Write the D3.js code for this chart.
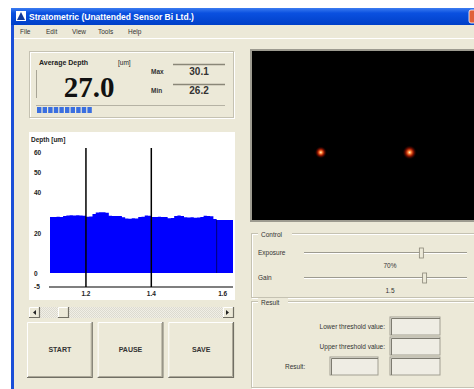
<!DOCTYPE html>
<html>
<head>
<meta charset="utf-8">
<script src="https://cdn.jsdelivr.net/npm/d3@7"></script>
<style>
  html, body { margin: 0; padding: 0; background: #fff; overflow: hidden; }
  svg { display: block; font-family: "Liberation Sans", Arial, sans-serif; }
</style>
</head>
<body>
<div id="container"></div>
<script>
// DATA //
var depthX = [1.09, 1.10, 1.11, 1.12, 1.13, 1.14, 1.15, 1.16, 1.17, 1.18, 1.19,
  1.20, 1.21, 1.22, 1.23, 1.24, 1.25, 1.26, 1.27, 1.28, 1.29, 1.30, 1.31, 1.32,
  1.33, 1.34, 1.35, 1.36, 1.37, 1.38, 1.39, 1.40, 1.41, 1.42, 1.43, 1.44, 1.45,
  1.46, 1.47, 1.48, 1.49, 1.50, 1.51, 1.52, 1.53, 1.54, 1.55, 1.56, 1.57, 1.58,
  1.59, 1.60, 1.61, 1.62, 1.63, 1.64, 1.65];
var depthY = [27.8, 27.8, 27.9, 27.8, 28.3, 28.5, 28.6, 28.5, 28.6, 28.5, 28.4,
  27.9, 28.0, 29.2, 30.0, 30.1, 30.1, 29.9, 28.4, 28.3, 28.2, 28.3, 27.6, 27.0,
  26.9, 27.1, 27.0, 27.7, 27.9, 28.5, 28.4, 27.8, 27.8, 27.9, 27.8, 27.8, 27.1,
  27.2, 28.2, 28.5, 28.3, 27.6, 27.5, 27.6, 27.4, 27.5, 27.8, 28.4, 28.3, 28.1,
  26.8, 26.2, 26.2, 26.2, 26.2, 26.2, 26.2];
var yTicks = [60, 50, 40, 20, 0, -5];
var xTicks = [1.2, 1.4, 1.6];
var cursorX = [1.2, 1.4];
var markerX = [1.6];
var avgDepth = 27.0, maxDepth = 30.1, minDepth = 26.2;
var spots = [{ x: 0.31, y: 0.6 }, { x: 0.71, y: 0.6 }];  // relative to camera panel
var buttonLabels = ["START", "PAUSE", "SAVE"];
var menuItems = ["File", "Edit", "View", "Tools", "Help"];
var sliders = [
  { label: "Exposure", value: 0.72, text: "70%" },
  { label: "Gain", value: 0.74, text: "1.5" }
];
var resultRows = ["Lower threshold value:", "Upper threshold value:"];

var W = 474, H = 389;
var beige = "#ece9d8";

var svg = d3.select("#container").append("svg")
  .attr("width", W).attr("height", H);

var defs = svg.append("defs");
var tg = defs.append("linearGradient").attr("id", "titleGrad")
  .attr("x1", 0).attr("y1", 0).attr("x2", 0).attr("y2", 1);
tg.append("stop").attr("offset", "0%").attr("stop-color", "#3b7cf0");
tg.append("stop").attr("offset", "30%").attr("stop-color", "#0a50e0");
tg.append("stop").attr("offset", "100%").attr("stop-color", "#0040c8");

var glow = defs.append("radialGradient").attr("id", "glow");
glow.append("stop").attr("offset", "0%").attr("stop-color", "#fff4c0");
glow.append("stop").attr("offset", "25%").attr("stop-color", "#ff7a30");
glow.append("stop").attr("offset", "55%").attr("stop-color", "#b01800").attr("stop-opacity", 0.8);
glow.append("stop").attr("offset", "100%").attr("stop-color", "#300000").attr("stop-opacity", 0);

// WINDOW FRAME //
svg.append("rect").attr("x", 11).attr("y", 8).attr("width", W - 11).attr("height", H - 8)
  .attr("fill", beige);
svg.append("rect").attr("x", 11).attr("y", 25).attr("width", 3).attr("height", H - 25)
  .attr("fill", "#1a4fd8");
svg.append("rect").attr("x", 11).attr("y", 8).attr("width", W - 11).attr("height", 17)
  .attr("fill", "url(#titleGrad)");
svg.append("rect").attr("x", 16).attr("y", 11).attr("width", 10).attr("height", 10)
  .attr("fill", "#fff");
svg.append("path").attr("d", "M17,20L21,12L25,20Z").attr("fill", "#123a9c");
svg.append("text").attr("x", 29).attr("y", 20).attr("fill", "#fff")
  .attr("font-size", 8.5).attr("font-weight", "bold")
  .text("Stratometric (Unattended Sensor Bi Ltd.)");
svg.append("rect").attr("x", 469).attr("y", 10).attr("width", 12).attr("height", 13)
  .attr("rx", 2).attr("fill", "#e0603a").attr("stroke", "#fff").attr("stroke-width", 0.8);

// menu
var mx = 20;
menuItems.forEach(function (m) {
  svg.append("text").attr("x", mx).attr("y", 34).attr("font-size", 6.5)
    .attr("fill", "#333").text(m);
  mx += m.length * 4 + 10;
});
svg.append("line").attr("x1", 14).attr("x2", W).attr("y1", 38.5).attr("y2", 38.5)
  .attr("stroke", "#fff");

// helper for etched group boxes
function groupBox(x, y, w, h, label) {
  var g = svg.append("g");
  g.append("rect").attr("x", x + 0.5).attr("y", y + 0.5).attr("width", w).attr("height", h)
    .attr("fill", "none").attr("stroke", "#fff");
  g.append("rect").attr("x", x - 0.5).attr("y", y - 0.5).attr("width", w).attr("height", h)
    .attr("fill", "none").attr("stroke", "#c5c2b2");
  if (label) {
    g.append("rect").attr("x", x + 6).attr("y", y - 4).attr("width", label.length * 4 + 6)
      .attr("height", 8).attr("fill", beige);
    g.append("text").attr("x", x + 9).attr("y", y + 3).attr("font-size", 6.5)
      .attr("fill", "#333").text(label);
  }
  return g;
}

// READOUT PANEL //
groupBox(30, 52, 204, 66);
svg.append("line").attr("x1", 36.5).attr("x2", 36.5).attr("y1", 70).attr("y2", 98)
  .attr("stroke", "#a8a596");
svg.append("text").attr("x", 39).attr("y", 65).attr("font-size", 7).attr("font-weight", "bold")
  .attr("fill", "#222").text("Average Depth");
svg.append("text").attr("x", 118).attr("y", 65).attr("font-size", 6.5).attr("fill", "#222")
  .text("[um]");
svg.append("text").attr("x", 89).attr("y", 97).attr("text-anchor", "middle")
  .attr("font-family", "Liberation Serif, Times New Roman, serif")
  .attr("font-size", 29).attr("font-weight", "bold").attr("fill", "#111")
  .text(d3.format(".1f")(avgDepth));
[["Max", maxDepth, 74, 64], ["Min", minDepth, 93, 84]].forEach(function (r) {
  svg.append("text").attr("x", 151).attr("y", r[2]).attr("font-size", 6.5)
    .attr("font-weight", "bold").attr("fill", "#333").text(r[0]);
  svg.append("line").attr("x1", 173).attr("x2", 225).attr("y1", r[3] + 0.5).attr("y2", r[3] + 0.5)
    .attr("stroke", "#8a8778").attr("stroke-width", 1.5);
  svg.append("text").attr("x", 199).attr("y", r[2] + 1).attr("text-anchor", "middle")
    .attr("font-size", 10).attr("font-weight", "bold").attr("fill", "#333")
    .text(d3.format(".1f")(r[1]));
});
// progress bar
svg.append("line").attr("x1", 36).attr("x2", 225).attr("y1", 105.5).attr("y2", 105.5)
  .attr("stroke", "#b5b2a4");
var progScale = d3.scaleLinear().domain([0, 60]).range([37, 225]);
d3.range(0, Math.round(avgDepth * 0.7) / 1.9).forEach(function (i) {
  svg.append("rect").attr("x", 37 + i * 5.6).attr("y", 107).attr("width", 4.4).attr("height", 6)
    .attr("fill", "#3a6fe0");
});

// DEPTH CHART //
svg.append("rect").attr("x", 29).attr("y", 132).attr("width", 206).attr("height", 168)
  .attr("fill", "#fff");

var x = d3.scaleLinear().domain([1.09, 1.65]).range([50, 233]);
var y = d3.scaleLinear().domain([-7, 62]).range([287, 148]);

svg.append("text").attr("x", 31).attr("y", 142).attr("font-size", 6.5)
  .attr("font-weight", "bold").attr("fill", "#222").text("Depth [um]");

var pts = depthX.map(function (d, i) { return [d, depthY[i]]; });
var area = d3.area()
  .x(function (d) { return x(d[0]); })
  .y0(y(0))
  .y1(function (d) { return y(d[1]); })
  .curve(d3.curveStepAfter);
svg.append("path").datum(pts).attr("d", area).attr("fill", "#0000ff");

svg.selectAll(".marker").data(markerX).enter().append("line")
  .attr("x1", d => x(d)).attr("x2", d => x(d))
  .attr("y1", y(26.2)).attr("y2", y(0))
  .attr("stroke", "#00007a").attr("stroke-width", 1);

svg.selectAll(".cursor").data(cursorX).enter().append("line")
  .attr("x1", d => x(d)).attr("x2", d => x(d))
  .attr("y1", y(62)).attr("y2", y(-7))
  .attr("stroke", "#000").attr("stroke-width", 1.5);

svg.append("line").attr("x1", 49).attr("x2", 233).attr("y1", y(-7)).attr("y2", y(-7))
  .attr("stroke", "#000").attr("stroke-width", 1.2);

svg.selectAll(".ytick").data(yTicks).enter().append("text")
  .attr("x", 34).attr("y", d => y(d) + (d === -5 ? 6 : 3))
  .attr("font-size", 6.5).attr("font-weight", "bold").attr("fill", "#222")
  .text(d => d);

svg.selectAll(".xtick").data(xTicks).enter().append("text")
  .attr("x", (d, i) => x(d) + (i === 2 ? 6 : 0)).attr("y", 296).attr("text-anchor", "middle")
  .attr("font-size", 6.5).attr("font-weight", "bold").attr("fill", "#222")
  .text(d => d3.format(".1f")(d));

// scrollbar
svg.append("rect").attr("x", 29).attr("y", 307).attr("width", 205).attr("height", 11)
  .attr("fill", "#f1efe6");
var pat = defs.append("pattern").attr("id", "dither").attr("width", 2).attr("height", 2)
  .attr("patternUnits", "userSpaceOnUse");
pat.append("rect").attr("width", 1).attr("height", 1).attr("fill", "#dcdad0");
pat.append("rect").attr("x", 1).attr("y", 1).attr("width", 1).attr("height", 1).attr("fill", "#dcdad0");
svg.append("rect").attr("x", 40).attr("y", 307).attr("width", 183).attr("height", 11)
  .attr("fill", "url(#dither)");
function raised(x0, y0, w, h) {
  svg.append("rect").attr("x", x0).attr("y", y0).attr("width", w).attr("height", h)
    .attr("fill", beige);
  svg.append("path").attr("d", "M" + (x0 + 0.5) + "," + (y0 + h) + "V" + (y0 + 0.5) + "H" + (x0 + w))
    .attr("fill", "none").attr("stroke", "#fff");
  svg.append("path").attr("d", "M" + x0 + "," + (y0 + h - 0.5) + "H" + (x0 + w - 0.5) + "V" + y0)
    .attr("fill", "none").attr("stroke", "#716f64").attr("stroke-width", 1.2);
}
raised(29, 307, 11, 11);
raised(58, 307, 11, 11);
raised(223, 307, 11, 11);
svg.append("path").attr("d", "M36,310L33,312.5L36,315Z").attr("fill", "#222");
svg.append("path").attr("d", "M226,310L229,312.5L226,315Z").attr("fill", "#222");

// buttons
var bx = d3.scaleBand().domain(buttonLabels).range([27, 234]).paddingInner(0.07);
buttonLabels.forEach(function (b) {
  var x0 = bx(b);
  raised(x0, 322, bx.bandwidth(), 56);
  svg.append("path").attr("d", "M" + (x0 + 1) + "," + 376.5 + "H" + (x0 + bx.bandwidth() - 1.5) + "V" + 323)
    .attr("fill", "none").attr("stroke", "#aca899");
  svg.append("text").attr("x", x0 + bx.bandwidth() / 2).attr("y", 352)
    .attr("text-anchor", "middle").attr("font-size", 7).attr("font-weight", "bold")
    .attr("fill", "#333").text(b);
});

// CAMERA PANEL //
svg.append("rect").attr("x", 250).attr("y", 49).attr("width", W - 250).attr("height", 173)
  .attr("fill", "#9d9b90");
svg.append("rect").attr("x", 252).attr("y", 51).attr("width", W - 252).attr("height", 169)
  .attr("fill", "#000");
var cx = d3.scaleLinear().domain([0, 1]).range([252, 474]);
var cy = d3.scaleLinear().domain([0, 1]).range([51, 220]);
svg.selectAll(".spot").data(spots).enter().append("circle")
  .attr("cx", d => cx(d.x)).attr("cy", d => cy(d.y)).attr("r", (d, i) => i === 0 ? 6 : 7)
  .attr("fill", "url(#glow)");

// CONTROL GROUP //
groupBox(252, 234, 230, 64, "Control");
var sx = d3.scaleLinear().domain([0, 1]).range([304, 467]);
sliders.forEach(function (s, i) {
  var yy = 253 + i * 25;
  svg.append("text").attr("x", 258).attr("y", yy + 2).attr("font-size", 6.5)
    .attr("fill", "#333").text(s.label);
  svg.append("line").attr("x1", sx(0)).attr("x2", sx(1)).attr("y1", yy - 0.5).attr("y2", yy - 0.5)
    .attr("stroke", "#9d9b90");
  svg.append("line").attr("x1", sx(0)).attr("x2", sx(1)).attr("y1", yy + 0.5).attr("y2", yy + 0.5)
    .attr("stroke", "#fff");
  svg.append("rect").attr("x", sx(s.value) - 2).attr("y", yy - 5).attr("width", 4).attr("height", 10)
    .attr("fill", beige).attr("stroke", "#8a8778").attr("stroke-width", 0.8);
  svg.append("text").attr("x", 390).attr("y", yy + 15).attr("text-anchor", "middle")
    .attr("font-size", 6.5).attr("fill", "#333").text(s.text);
});

// RESULT GROUP //
groupBox(252, 302, 230, 86, "Result");
function sunken(x0, y0, w, h) {
  svg.append("rect").attr("x", x0).attr("y", y0).attr("width", w).attr("height", h)
    .attr("fill", "#efede4").attr("stroke", "#a19f92");
  svg.append("path").attr("d", "M" + (x0 + 1.5) + "," + (y0 + h) + "V" + (y0 + 1.5) + "H" + (x0 + w))
    .attr("fill", "none").attr("stroke", "#7d7b70");
}
resultRows.forEach(function (r, i) {
  var yy = 317 + i * 20;
  svg.append("text").attr("x", 385).attr("y", yy + 12).attr("text-anchor", "end")
    .attr("font-size", 6.5).attr("fill", "#333").text(r);
  sunken(390, yy, 50, 18);
});
svg.append("text").attr("x", 285).attr("y", 369).attr("font-size", 6.5).attr("fill", "#333")
  .text("Result:");
sunken(330, 357, 48, 18);
sunken(390, 357, 50, 18);
</script>
</body>
</html>
